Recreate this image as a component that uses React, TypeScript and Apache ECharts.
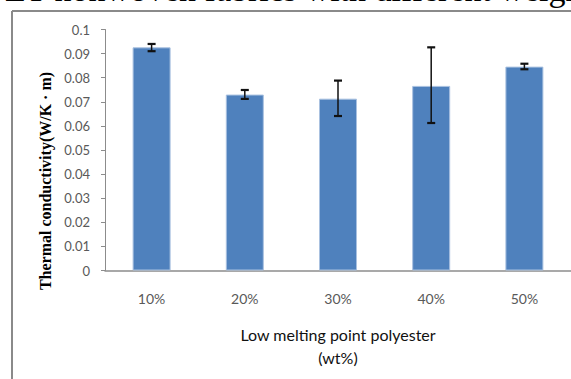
import React, { useEffect, useRef } from "react";
import * as echarts from "echarts";

const categories = ["10%", "20%", "30%", "40%", "50%"];
const conductivity = [0.0926, 0.073, 0.0713, 0.0766, 0.0846];
const errorLow = [0.091, 0.0712, 0.0641, 0.0612, 0.0835];
const errorHigh = [0.094, 0.0749, 0.0788, 0.0926, 0.0858];
const yTicks = [0, 0.01, 0.02, 0.03, 0.04, 0.05, 0.06, 0.07, 0.08, 0.09, 0.1];

const caption = "PET nonwoven fabrics with different weight";
const yName = "Thermal conductivity(W/K \u00b7 m)";
const xName = "Low melting point polyester\n(wt%)";

export default function App() {
  const ref = useRef<HTMLDivElement>(null);
  useEffect(() => {
    if (!ref.current) return;
    const chart = echarts.init(ref.current, null, { renderer: "svg" });
    const errData = categories.map((_, i) => [i, errorLow[i], errorHigh[i]]);
    chart.setOption({
      animation: false,
      backgroundColor: "#ffffff",
      grid: { left: 105, top: 29.5, width: 470, height: 241, containLabel: false },
      xAxis: {
        type: "category",
        data: categories,
        axisLine: { show: true, lineStyle: { color: "#8c8c8c", width: 1.5 } },
        axisTick: { show: false },
        axisLabel: {
          color: "#595959",
          fontFamily: "Lato",
          fontSize: 14,
          margin: 21,
        },
        name: xName,
        nameLocation: "middle",
        nameGap: 52,
        nameTextStyle: {
          color: "#111111",
          fontFamily: "Lato",
          fontSize: 16,
          lineHeight: 23,
        },
      },
      yAxis: {
        type: "value",
        min: 0,
        max: yTicks[yTicks.length - 1],
        interval: yTicks[1] - yTicks[0],
        axisLine: { show: true, lineStyle: { color: "#8c8c8c", width: 1 } },
        axisTick: { show: true, length: 4, inside: false, lineStyle: { color: "#8c8c8c" } },
        splitLine: { show: false },
        axisLabel: {
          color: "#595959",
          fontFamily: "Lato",
          fontSize: 13,
          margin: 15,
          formatter: (v: number) => (v === 0 ? "0" : String(+v.toFixed(2))),
        },
      },
      series: [
        {
          type: "bar",
          data: conductivity,
          barWidth: 38,
          itemStyle: { color: "#4f81bd", borderColor: "#a9c1e0", borderWidth: 1 },
        },
        {
          type: "custom",
          data: errData,
          z: 10,
          renderItem: (params: any, api: any) => {
            const x = api.value(0);
            const lo = api.coord([x, api.value(1)]);
            const hi = api.coord([x, api.value(2)]);
            const cap = 4;
            const style = { stroke: "#111111", lineWidth: 1.5 };
            const capStyle = { stroke: "#111111", lineWidth: 2.2 };
            return {
              type: "group",
              children: [
                { type: "line", shape: { x1: lo[0], y1: lo[1], x2: hi[0], y2: hi[1] }, style },
                { type: "line", shape: { x1: lo[0] - cap, y1: lo[1], x2: lo[0] + cap, y2: lo[1] }, style: capStyle },
                { type: "line", shape: { x1: hi[0] - cap, y1: hi[1], x2: hi[0] + cap, y2: hi[1] }, style: capStyle },
              ],
            };
          },
        },
      ],
      graphic: [
        {
          type: "text",
          x: 592,
          y: 6,
          style: {
            text: caption,
            align: "right",
            verticalAlign: "bottom",
            fill: "#000000",
            font: "34px 'Liberation Serif', serif",
          },
        },
        {
          type: "line",
          shape: { x1: 12, y1: 11, x2: 571, y2: 11 },
          style: { stroke: "#8a8a8a", lineWidth: 2 },
        },
        {
          type: "line",
          shape: { x1: 12, y1: 11, x2: 12, y2: 379 },
          style: { stroke: "#8a8a8a", lineWidth: 2 },
        },
        {
          type: "text",
          x: 45,
          y: 181,
          rotation: Math.PI / 2,
          style: {
            text: yName,
            align: "center",
            verticalAlign: "middle",
            fill: "#000000",
            font: "bold 16px 'Liberation Serif', serif",
          },
        },
      ],
    });
    return () => chart.dispose();
  }, []);
  return (
    <div
      ref={ref}
      style={{ position: "fixed", left: 0, top: 0, width: 571, height: 379 }}
    />
  );
}
